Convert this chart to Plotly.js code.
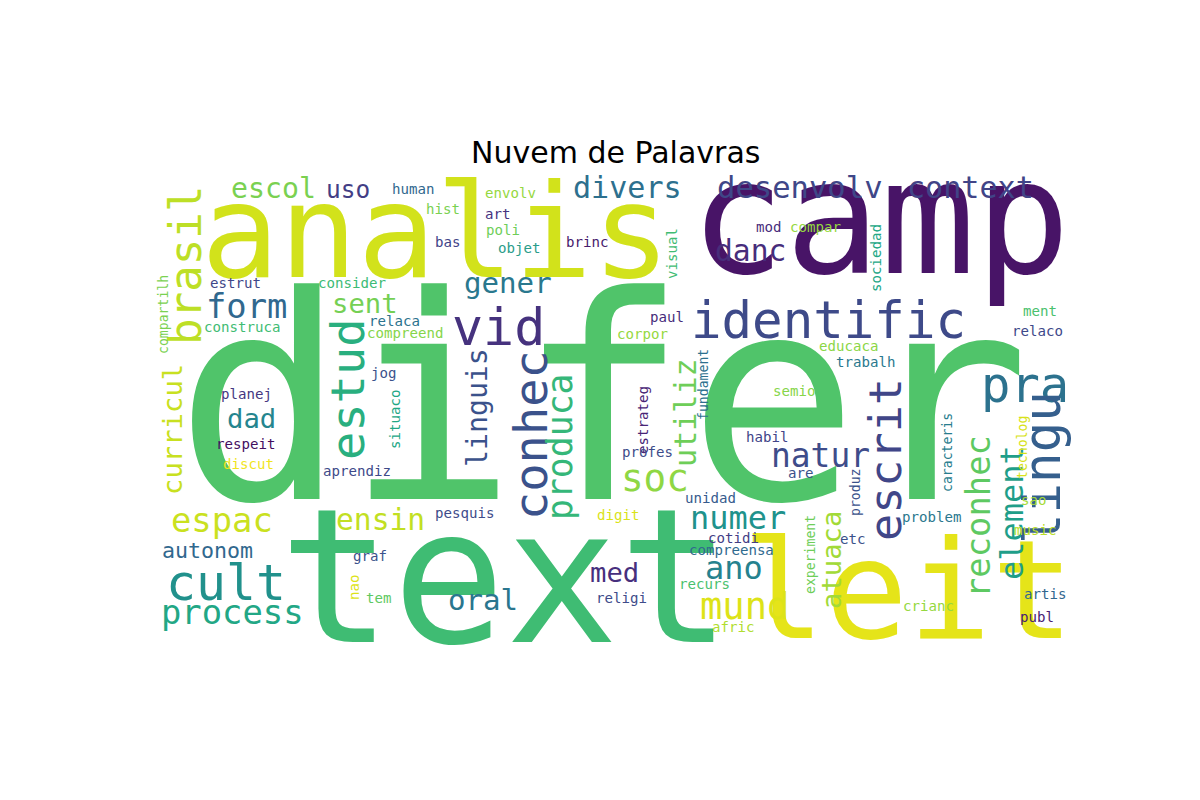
<!DOCTYPE html>
<html>
<head>
<meta charset="utf-8">
<script src="https://cdn.plot.ly/plotly-3.0.1.min.js"></script>
<style>html,body{margin:0;padding:0;background:#fff}</style>
</head>
<body>
<div id="chart" style="width:1200px;height:800px"></div>
<script>
// ---- Word cloud data: word, centre (px), font size, colour, rotation ----
const words = ['difer','analis','camp','text','leit','identific','vid','pra','escol','uso','divers','desenvolv','context',
  'brasil','curricul','form','sent','gener','danc','estud','dad','linguis','conhec','produca','utiliz','soc','natur','escrit',
  'reconhec','element','lingu','espac','ensin','numer','autonom','cult','ano','med','mund','oral','process','atuaca',
  'human','envolv','hist','art','poli','objet','bas','brinc','visual','mod','compar','sociedad','estrut','consider','compartilh',
  'construca','relaca','compreend','paul','corpor','ment','relaco','educaca','trabalh','jog','planej','semio','situaco','estrateg',
  'fundament','habil','respeit','discut','profes','tecnolog','caracteris','are','aprendiz','unidad','produz','sao','pesquis',
  'digit','problem','music','etc','cotidi','compreensa','experiment','graf','recurs','nao','tem','religi','artis','crianc','publ','afric'];
const wordX = [602,436,880,505,908,828,498,1025,273,348,627,800,970,
  185,172,246,365,508,750,347,251,477,530,560,685,655,820,885,
  978,1012,1042,222,380,738,207,226,734,614,744,483,232,831,
  413,510,443,497,503,519,447,587,672,768,815,876,235,352,163,
  242,394,405,667,642,1040,1037,848,865,383,246,794,395,643,
  703,767,245,248,647,1022,947,800,357,710,855,1033,464,
  618,931,1035,852,733,731,810,370,704,354,378,621,1045,928,1037,733];
const wordY = [400,232,218,576,590,320,327,385,188,189,187,187,187,
  265,430,306,303,283,251,390,418,408,435,447,413,478,455,460,
  517,513,468,520,520,518,550,583,568,572,606,600,612,560,
  189,193,209,214,230,248,242,242,254,227,227,258,283,283,315,
  327,321,333,317,334,311,331,346,362,373,394,391,420,420,
  385,437,444,464,452,448,453,473,471,498,492,500,513,
  515,517,530,539,538,550,555,556,584,588,598,598,594,606,617,627];
const wordSize = [284,130,158,188,138,54,55,52,30,26,32,32.5,32,
  47,29,36,29,31,31.5,50,29,30,50,37,32,40,35,48,
  36,34,54,36,31.5,34,23,53,34,29,39.5,31,36,29,
  15,15,15,15,15,15,15,15,15,15,15,15,15,15,14,
  15,15,15,15,15,15,15,15,15,15,15,15,15,15,
  14,15,15,15,15,14,14,15,15,15,14,15,15,
  15,15,15,15,15,15,14,15,15,15,15,15,15,15,15,15];
const wordColor = ['#50c46a','#d2e21b','#481467','#3fbc73','#e5e419','#3e4a89','#46327e','#2c728e','#7ad151','#433e85','#2d708e','#3f4788','#414487',
  '#bddf26','#c8e020','#31688e','#75d054','#2a788e','#472d7b','#29af7f','#25858e','#3b528b','#3b528b','#35b779','#6ece58','#8fd744','#3e4c8a','#404688',
  '#5ec962','#1f9e89','#355f8d','#cae11f','#c2df23','#20928c','#31688e','#21918c','#26828e','#472f7d','#dde318','#2a768e','#22a785','#a2da37',
  '#31688e','#95d840','#7ad151','#46337f','#6ece58','#2a9d8a','#414487','#481b6d','#3fbc73','#472d7b','#95d840','#22a785','#404688','#3cbb75','#7ad151',
  '#3fbc73','#2c738e','#86d549','#472d7b','#95d840','#4ac16d','#3e4989','#8bd646','#2a788e','#3b528b','#453781','#86d549','#22a785','#482576',
  '#2d708e','#414487','#440f5f','#f1e51d','#3e4c8a','#d8e219','#287d8e','#3b528b','#3e4a89','#375b8d','#3b528b','#a5db36','#3e4c8a',
  '#dae319','#2a788e','#bade28','#3b528b','#433e85','#306a8e','#6ece58','#3b528b','#4ac16d','#dde318','#5ec962','#3e4c8a','#31678e','#95d840','#482173','#b0dd2f'];
const vertical = ['brasil','curricul','estud','linguis','conhec','produca','utiliz','escrit','reconhec','element','lingu','atuaca',
  'visual','sociedad','compartilh','situaco','estrateg','fundament','tecnolog','caracteris','produz','experiment','nao'];

// medium and small words came out slightly wide, trim them a little
const sizeOf = (s) => (s < 100 ? s * 0.94 : s);

const annotations = words.map((w, i) => ({
  x: wordX[i], y: wordY[i], xref: 'x', yref: 'y',
  text: w, showarrow: false, xanchor: 'center', yanchor: 'middle',
  textangle: vertical.includes(w) ? -90 : 0,
  font: { family: 'DejaVu Sans Mono, monospace', size: sizeOf(wordSize[i]), color: wordColor[i] },
}));

annotations.push({
  x: 615, y: 152, xref: 'x', yref: 'y', text: 'Nuvem de Palavras', showarrow: false,
  xanchor: 'center', yanchor: 'middle',
  font: { family: 'DejaVu Sans, sans-serif', size: 30, color: '#000' },
});

Plotly.newPlot('chart', [{ x: [], y: [], type: 'scatter', mode: 'markers' }], {
  width: 1200, height: 800,
  margin: { t: 0, b: 0, l: 0, r: 0 },
  paper_bgcolor: '#fff', plot_bgcolor: '#fff',
  showlegend: false,
  xaxis: { range: [0, 1200], visible: false, fixedrange: true },
  yaxis: { range: [800, 0], visible: false, fixedrange: true },
  annotations,
}, { staticPlot: true });
</script>
</body>
</html>
